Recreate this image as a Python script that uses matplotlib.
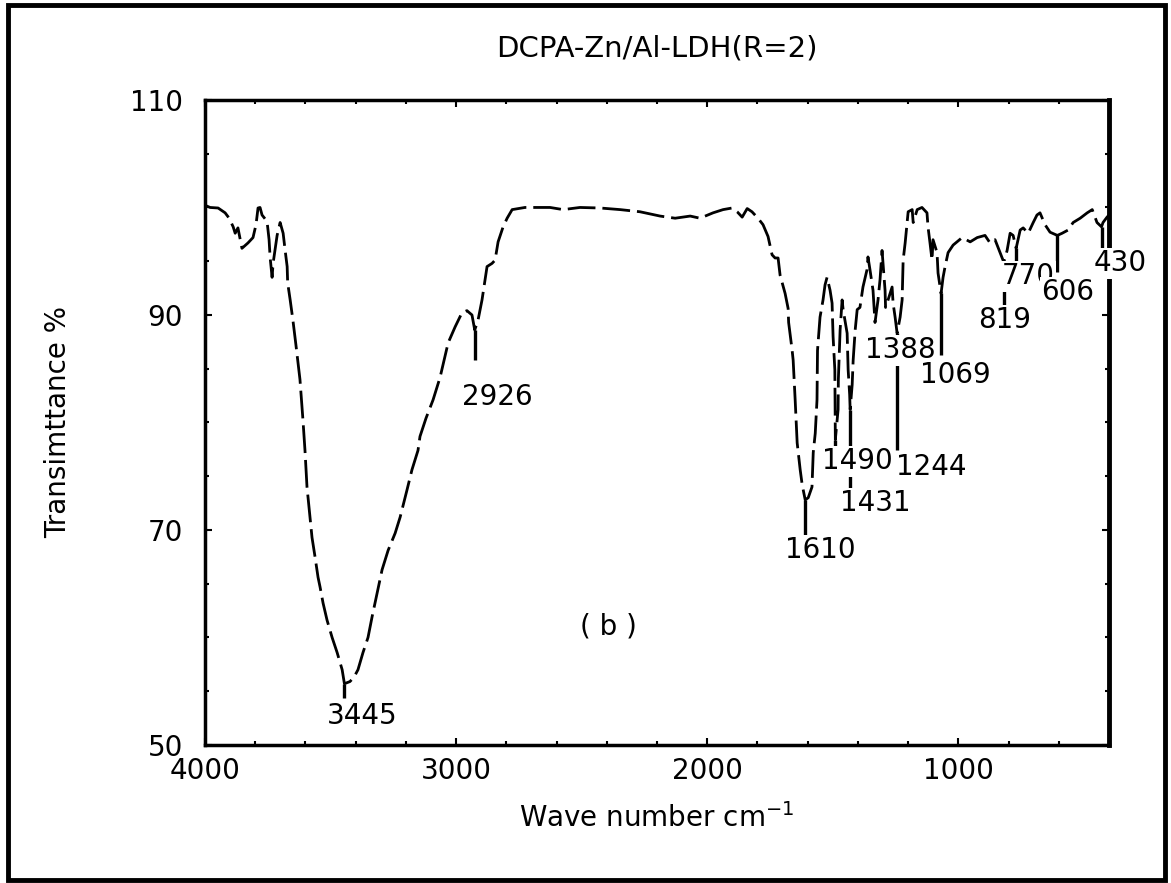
import matplotlib
matplotlib.use("Agg")
import matplotlib.pyplot as plt
from matplotlib.patches import Rectangle
from matplotlib.ticker import MultipleLocator

plt.rcParams["font.family"] = ["DejaVu Sans"]

# FT-IR spectrum, DCPA intercalated Zn/Al LDH
wavenumber = [
    4000, 3980, 3948, 3920, 3904, 3888, 3880, 3869, 3853, 3829, 3809, 3797,
    3789, 3781, 3773, 3753, 3745, 3741, 3733, 3729, 3713, 3701, 3689, 3681,
    3673, 3671, 3661, 3650, 3638, 3622, 3610, 3602, 3594, 3582, 3574, 3562,
    3550, 3542, 3530, 3514, 3494, 3474, 3454, 3445, 3423, 3407, 3391, 3371,
    3351, 3335, 3315, 3295, 3271, 3243, 3223, 3196, 3176, 3152, 3144, 3120,
    3092, 3064, 3032, 3004, 2977, 2957, 2937, 2926, 2913, 2897, 2885, 2877,
    2857, 2845, 2833, 2813, 2797, 2777, 2726, 2626, 2574, 2507, 2427, 2347,
    2268, 2188, 2128, 2068, 2029, 1977, 1937, 1901, 1881, 1861, 1841, 1822,
    1798, 1778, 1758, 1742, 1730, 1718, 1710, 1690, 1678, 1676, 1662, 1658,
    1650, 1642, 1630, 1622, 1610, 1598, 1583, 1578, 1570, 1563, 1561, 1551,
    1539, 1531, 1523, 1511, 1503, 1499, 1492, 1491, 1490, 1479, 1478, 1471,
    1463, 1459, 1443, 1439, 1433, 1431, 1423, 1419, 1411, 1403, 1392, 1380,
    1364, 1360, 1352, 1340, 1332, 1320, 1312, 1304, 1300, 1292, 1290, 1280,
    1264, 1260, 1252, 1244, 1232, 1224, 1220, 1212, 1204, 1200, 1184, 1180,
    1164, 1145, 1125, 1121, 1113, 1105, 1101, 1085, 1081, 1069, 1061, 1053,
    1041, 1021, 985, 953, 925, 894, 874, 854, 834, 819, 806, 794, 782, 770,
    754, 742, 722, 702, 687, 675, 655, 635, 606, 587, 563, 543, 515, 487,
    467, 448, 430, 424, 408, 400,
]
transmittance = [
    100.2, 100.0, 99.95, 99.5, 99.0, 98.2, 97.6, 98.1, 96.2, 96.7, 97.2, 98.4,
    99.95, 100.0, 99.3, 98.7, 97.0, 95.4, 93.5, 94.8, 97.4, 98.6, 97.6, 96.0,
    94.5, 93.0, 91.4, 89.5, 87.2, 84.0, 80.2, 77.4, 74.0, 71.2, 69.3, 67.5,
    65.6, 64.7, 63.2, 61.6, 60.0, 58.6, 57.0, 55.7, 55.9, 56.3, 57.0, 58.6,
    60.0, 61.9, 64.1, 66.3, 68.1, 69.7, 71.2, 73.7, 75.6, 77.4, 78.7, 80.4,
    82.1, 84.2, 87.4, 88.9, 90.2, 90.4, 90.0, 88.6, 89.5, 91.4, 93.3, 94.5,
    94.8, 95.1, 96.8, 98.2, 99.0, 99.8, 100.0, 100.0, 99.8, 100.0, 99.95, 99.8,
    99.6, 99.2, 99.0, 99.2, 99.0, 99.5, 99.8, 99.95, 99.6, 99.1, 99.9, 99.6,
    99.0, 98.4, 97.3, 95.6, 95.3, 95.3, 93.7, 92.0, 90.6, 89.3, 86.7, 85.8,
    82.1, 78.1, 75.6, 74.2, 72.8, 73.0, 74.0, 77.2, 79.0, 82.1, 86.7, 89.8,
    91.4, 92.8, 93.5, 92.3, 91.1, 88.0, 84.9, 81.8, 78.4, 81.2, 84.0, 88.6,
    91.4, 90.5, 88.3, 84.9, 82.6, 81.2, 83.5, 85.8, 88.6, 90.5, 90.7, 92.6,
    94.2, 95.4, 94.2, 92.3, 89.3, 91.4, 93.3, 96.0, 94.8, 92.3, 90.7, 91.4,
    92.6, 91.1, 89.8, 88.3, 89.8, 91.4, 95.1, 96.7, 98.6, 99.6, 99.8, 98.6,
    99.8, 100.0, 99.5, 98.2, 96.7, 95.1, 97.0, 95.8, 93.9, 92.0, 93.5, 94.5,
    95.8, 96.5, 97.2, 96.8, 97.2, 97.4, 96.7, 97.0, 95.8, 94.9, 96.0, 97.6, 97.4, 96.2,
    97.9, 98.1, 97.6, 98.6, 99.3, 99.5, 98.4, 97.7, 97.4, 97.6, 97.9, 98.6, 99.0, 99.5,
    99.8, 98.6, 98.2, 98.6, 99.1, 99.3,
]

# band markers: wavenumber, tick from curve (top) down to (bottom)
band_wn = [3445, 2926, 1610, 1490, 1431, 1244, 1069, 819, 770, 606, 430]
band_top = [55.7, 88.6, 72.8, 78.4, 81.2, 88.3, 92.0, 94.9, 96.2, 97.4, 98.2]
band_bottom = [54.4, 85.8, 69.5, 76.8, 73.4, 77.4, 86.3, 90.7, 94.2, 94.0, 94.2]

# band labels and where their text sits
label_text = ["3445", "2926", "1610", "1490", "1431", "1388", "1244", "1069",
              "819", "770", "606", "430"]
label_wn = [3375, 2837, 1551, 1403, 1332, 1232, 1109, 1013, 814, 722, 563, 356]
label_t = [52.7, 82.4, 68.1, 76.4, 72.5, 86.7, 75.9, 84.4, 89.5, 93.6, 92.1, 94.8]

y_ticks = [50, 70, 90, 110]

fig = plt.figure(figsize=(11.71, 8.83), dpi=100)
ax = fig.add_axes([0.1751, 0.1563, 0.772, 0.7305])

ax.plot(wavenumber, transmittance, color="black", lw=2.0,
        linestyle=(0, (10, 2.5)), zorder=2)
ax.vlines(band_wn, band_bottom, band_top, color="black", lw=2.4, zorder=2)

for txt, x, y in zip(label_text, label_wn, label_t):
    ax.text(x, y, txt, fontsize=20, ha="center", va="center", zorder=5,
            bbox=dict(boxstyle="square,pad=0.05", fc="white", ec="none"))

ax.text(2395, 61.0, "( b )", fontsize=20, ha="center", va="center")

ax.set_xlim(4000, 400)
ax.set_ylim(50, 110)
ax.xaxis.set_major_locator(MultipleLocator(1000))
ax.xaxis.set_minor_locator(MultipleLocator(200))
ax.set_yticks(y_ticks)
ax.yaxis.set_minor_locator(MultipleLocator(5))
ax.tick_params(which="both", direction="in", top=True, right=True,
               labelsize=20, width=1.5)
ax.tick_params(which="major", length=5)
ax.tick_params(axis="x", which="major", pad=9)
ax.tick_params(axis="y", which="major", pad=16)
ax.tick_params(which="minor", length=3)

for side in ["left", "bottom", "top"]:
    ax.spines[side].set_linewidth(2.5)
ax.spines["right"].set_linewidth(3.5)

ax.set_xlabel("Wave number cm$^{-1}$", fontsize=20)
ax.xaxis.set_label_coords(0.5, -0.113)
ax.xaxis.label.set_va("center")
ax.set_ylabel("Transimttance %", fontsize=20)
ax.yaxis.set_label_coords(-0.163, 0.5)
ax.yaxis.label.set_va("center")

fig.text(0.561, 0.9456, "DCPA-Zn/Al-LDH(R=2)", fontsize=21,
         ha="center", va="center")

# outer frame around the whole figure
fig.patches.append(Rectangle((0.0068, 0.0034), 0.9881, 0.9909,
                             transform=fig.transFigure, fill=False,
                             ec="black", lw=3.5))

fig.savefig("out.png", dpi=100)
